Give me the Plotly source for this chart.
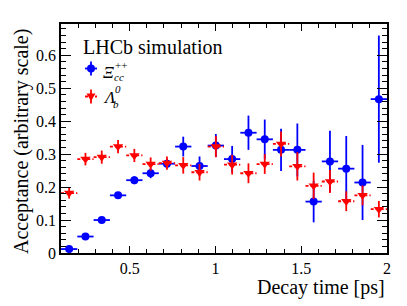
import plotly.graph_objects as go

# ---------------- data ----------------
bin_centers = [0.1475, 0.2425, 0.3375, 0.4325, 0.5275, 0.6225, 0.7175, 0.8125, 0.9075, 1.0025,
               1.0975, 1.1925, 1.2875, 1.3825, 1.4775, 1.5725, 1.6675, 1.7625, 1.8575, 1.9525]
bin_half_width = [0.0475] * 20

xi_vals = [0.012, 0.050, 0.100, 0.175, 0.221, 0.242, 0.271, 0.323, 0.264, 0.326,
           0.285, 0.365, 0.345, 0.313, 0.313, 0.156, 0.278, 0.256, 0.214, 0.467]
xi_errs = [0.005, 0.005, 0.006, 0.008, 0.012, 0.015, 0.014, 0.030, 0.029, 0.035,
           0.040, 0.052, 0.060, 0.064, 0.080, 0.063, 0.093, 0.099, 0.114, 0.193]

lb_vals = [0.182, 0.285, 0.291, 0.323, 0.296, 0.270, 0.273, 0.266, 0.245, 0.323,
           0.268, 0.242, 0.270, 0.331, 0.263, 0.204, 0.217, 0.157, 0.175, 0.133]
lb_errs = [0.017, 0.019, 0.020, 0.020, 0.020, 0.020, 0.020, 0.025, 0.025, 0.032,
           0.030, 0.030, 0.030, 0.038, 0.043, 0.040, 0.035, 0.030, 0.030, 0.025]

x_tickvals = [0.5, 1.0, 1.5, 2.0]
x_ticktext = ["0.5", "1", "1.5", "2"]
y_tickvals = [0, 0.1, 0.2, 0.3, 0.4, 0.5, 0.6]
y_ticktext = ["0", "0.1", "0.2", "0.3", "0.4", "0.5", "0.6"]

# ---------------- layout constants ----------------
W, H = 407, 306
ML, MR, MT, MB = 61, 20, 24, 53
PW, PH = W - ML - MR, H - MT - MB
FONT = "Liberation Serif, Times New Roman, Times, serif"
BLUE = "#0000ff"
RED = "#ff0000"


def px(xp):
    return (xp - ML) / PW


def py(yp):
    return (H - MB - yp) / PH


fig = go.Figure()

# Xi_cc++ (blue)
fig.add_trace(go.Scatter(
    x=bin_centers, y=xi_vals, mode="markers",
    marker=dict(symbol="circle", size=8, color=BLUE, line=dict(width=0)),
    error_y=dict(type="data", array=xi_errs, color=BLUE, thickness=1.8, width=0),
    error_x=dict(type="data", array=bin_half_width, color=BLUE, thickness=1.8, width=0),
    showlegend=False,
))

# Lambda_b (red) dashed horizontal bars
hx, hy = [], []
for c, w, v in zip(bin_centers, bin_half_width, lb_vals):
    hx += [c - w, c + w, None]
    hy += [v, v, None]
fig.add_trace(go.Scatter(
    x=hx, y=hy, mode="lines",
    line=dict(color=RED, width=1.8, dash="3px,2px"),
    showlegend=False, hoverinfo="skip",
))
fig.add_trace(go.Scatter(
    x=bin_centers, y=lb_vals, mode="markers",
    marker=dict(symbol="triangle-down", size=9, color=RED, line=dict(width=0)),
    error_y=dict(type="data", array=lb_errs, color=RED, thickness=1.8, width=0),
    showlegend=False,
))

axis_common = dict(
    showline=True, linecolor="black", linewidth=1.5, mirror="allticks",
    ticks="inside", tickcolor="black", tickwidth=1.3,
    showgrid=False, zeroline=False, automargin=False,
    tickfont=dict(family=FONT, size=16, color="black"),
)

fig.update_xaxes(
    range=[0.1, 2.0], tickmode="array", tickvals=x_tickvals, ticktext=x_ticktext,
    ticklen=7,
    minor=dict(ticks="inside", ticklen=4, tickwidth=1.1, tickcolor="black", dtick=0.1, tick0=0,
               showgrid=False),
    **axis_common,
)
fig.update_yaxes(
    range=[0, 0.695], tickmode="array", tickvals=y_tickvals, ticktext=y_ticktext,
    ticklen=10,
    minor=dict(ticks="inside", ticklen=5, tickwidth=1.1, tickcolor="black", dtick=0.02, tick0=0,
               showgrid=False),
    **axis_common,
)

annotations = [
    # axis titles
    dict(text="Decay time [ps]", x=px(387), y=py(287), xanchor="right", yanchor="middle",
         font=dict(family=FONT, size=20, color="black")),
    dict(text="Acceptance (arbitrary scale)", textangle=-90, x=px(21.5), y=py(27),
         xanchor="center", yanchor="top", font=dict(family=FONT, size=20, color="black")),
    # legend header
    dict(text="LHCb simulation", x=px(81), y=py(47), xanchor="left", yanchor="middle",
         font=dict(family=FONT, size=20, color="black")),
    # Xi_cc++
    dict(text="<i>Ξ</i>", x=px(101), y=py(72), xanchor="left", yanchor="middle",
         font=dict(family=FONT, size=17, color="black")),
    dict(text="<i>cc</i>", x=px(111.5), y=py(76.5), xanchor="left", yanchor="middle",
         font=dict(family=FONT, size=11, color="black")),
    dict(text="++", x=px(112.5), y=py(65), xanchor="left", yanchor="middle",
         font=dict(family=FONT, size=11, color="black")),
    # Lambda_b0
    dict(text="<i>Λ</i>", x=px(101), y=py(97.5), xanchor="left", yanchor="middle",
         font=dict(family=FONT, size=17, color="black")),
    dict(text="<i>b</i>", x=px(111), y=py(103.5), xanchor="left", yanchor="middle",
         font=dict(family=FONT, size=11, color="black")),
    dict(text="<i>0</i>", x=px(112.5), y=py(89), xanchor="left", yanchor="middle",
         font=dict(family=FONT, size=11, color="black")),
]
for a in annotations:
    a.update(xref="paper", yref="paper", showarrow=False)

shapes = []
# legend icons
for (lx, ly, col, kind) in [(91, 68.5, BLUE, "circle"), (91, 96.5, RED, "tri")]:
    base = dict(xref="paper", yref="paper", xsizemode="pixel", ysizemode="pixel",
                xanchor=px(lx), yanchor=py(ly))
    shapes.append(dict(type="line", x0=-6, x1=6, y0=0, y1=0,
                       line=dict(color=col, width=1.8, dash="3px,2px" if kind == "tri" else "solid"), **base))
    shapes.append(dict(type="line", x0=0, x1=0, y0=-7, y1=7, line=dict(color=col, width=1.8), **base))
    if kind == "circle":
        shapes.append(dict(type="circle", x0=-4, x1=4, y0=-4, y1=4, fillcolor=col,
                           line=dict(width=0), **base))
    else:
        shapes.append(dict(type="path", path="M -4.5 3 L 4.5 3 L 0 -4.8 Z", fillcolor=col,
                           line=dict(width=0), **base))

fig.update_layout(
    width=W, height=H,
    margin=dict(l=ML, r=MR, t=MT, b=MB, autoexpand=False),
    paper_bgcolor="white", plot_bgcolor="white",
    annotations=annotations, shapes=shapes,
    showlegend=False,
)

fig.write_html(
    "out.html",
    config={"displayModeBar": False},
    post_script="document.body.style.margin='0px';document.body.style.overflow='hidden';",
)
